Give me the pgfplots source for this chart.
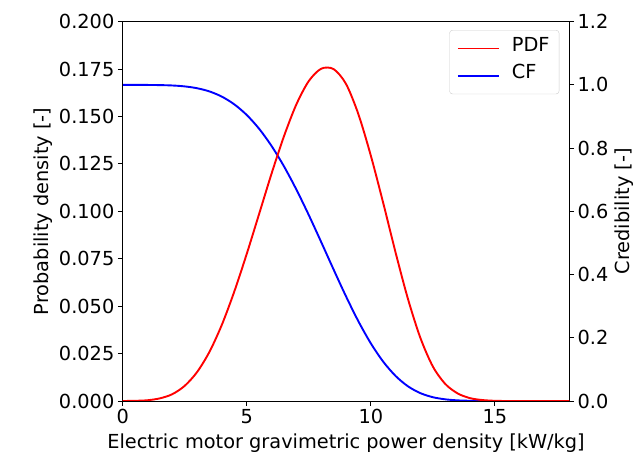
\documentclass[border=0pt]{standalone}
\usepackage{fontspec}
\setmainfont{DejaVu Sans}
\usepackage{pgfplots}
\pgfplotsset{compat=1.18}
\usepackage{pgfplotstable}

\pgfplotstableread{
x pdf
0.0 0.0
0.5 0.0001
1.0 0.0004
1.5 0.0014
2.0 0.0036
2.5 0.0080
3.0 0.0153
3.5 0.0260
4.0 0.0403
4.5 0.0578
5.0 0.0776
5.5 0.0987
6.0 0.1199
6.5 0.1396
7.0 0.1564
7.5 0.1687
8.0 0.1752
8.5 0.1750
9.0 0.1672
9.5 0.1512
10.0 0.1294
10.5 0.1044
11.0 0.0782
11.5 0.0537
12.0 0.0332
12.5 0.0182
13.0 0.0090
13.5 0.0040
14.0 0.0015
14.5 0.0005
15.0 0.0001
15.5 0.0
16.0 0.0
17.0 0.0
18.0 0.0
}\pdftable

\pgfplotstableread{
x cf
0.0 1.0
0.5 1.0
1.0 0.9999
1.5 0.9994
2.0 0.9982
2.5 0.9953
3.0 0.9895
3.5 0.9793
4.0 0.9628
4.5 0.9384
5.0 0.9048
5.5 0.8611
6.0 0.8068
6.5 0.7424
7.0 0.6690
7.5 0.5883
8.0 0.5029
8.5 0.4160
9.0 0.3311
9.5 0.2521
10.0 0.1824
10.5 0.1244
11.0 0.0791
11.5 0.0463
12.0 0.0248
12.5 0.0120
13.0 0.0053
13.5 0.0020
14.0 0.0007
14.5 0.0002
15.0 0.0
16.0 0.0
17.0 0.0
18.0 0.0
}\cftable

\newcommand\fs{\fontsize{19.4}{23}\selectfont}

\begin{document}
\begin{tikzpicture}
\pgfplotsset{
  common/.style={
    scale only axis, width=446.6bp, height=379.3bp,
    xmin=0, xmax=18,
    axis line style={line width=1bp, black},
    every tick/.style={line width=1bp, black},
    major tick length=4.86bp,
    tick align=outside,
    ticklabel style={font=\fs},
    label style={font=\fs},
    /pgf/number format/assume math mode=true,
    scaled y ticks=false,
    scaled x ticks=false,
  }
}
\begin{axis}[common, name=ax2,
  ymin=0, ymax=1.2,
  hide x axis,
  ytick={0,0.2,0.4,0.6,0.8,1.0,1.2},
  ytick pos=right, yticklabel pos=right,
  yticklabel style={/pgf/number format/.cd, fixed, fixed zerofill, precision=1},
  ylabel={Credibility [-]},
]
\addplot[blue, line width=1.9bp, smooth] table[x=x, y=cf] {\cftable};
\end{axis}
\begin{axis}[common, name=ax1,
  ymin=0, ymax=0.2,
  xtick={0,5,10,15}, xtick pos=bottom,
  ytick={0,0.025,0.05,0.075,0.1,0.125,0.15,0.175,0.2},
  ytick pos=left,
  yticklabel style={/pgf/number format/.cd, fixed, fixed zerofill, precision=3},
  xlabel={Electric motor gravimetric power density [kW/kg]},
  xlabel style={yshift=-3bp},
  ylabel={Probability density [-]},
  legend cell align=left,
  legend image code/.code={\draw[#1] (0bp,0bp) -- (41bp,0bp);},
  legend style={at={(axis description cs:0.9776,0.978)}, anchor=north east,
    draw=black!20, rounded corners=3bp, fill=white, fill opacity=0.8, text opacity=1,
    font=\fs, inner xsep=7.5bp, inner ysep=5.2bp, row sep=0.9bp,
    nodes={inner sep=2bp, text depth=8bp},
    /tikz/every odd column/.append style={column sep=10bp}},
]
\addplot[red, line width=1.9bp, smooth, forget plot] table[x=x, y=pdf] {\pdftable};
\addlegendimage{red, line width=1.9bp}
\addlegendentry{PDF}
\addlegendimage{blue, line width=1.9bp}
\addlegendentry{CF}
\end{axis}
\pgfresetboundingbox
\path[use as bounding box] ([xshift=-122.7bp,yshift=-52bp]ax1.south west) rectangle ([xshift=64.7bp,yshift=21.7bp]ax1.north east);
\end{tikzpicture}
\end{document}
